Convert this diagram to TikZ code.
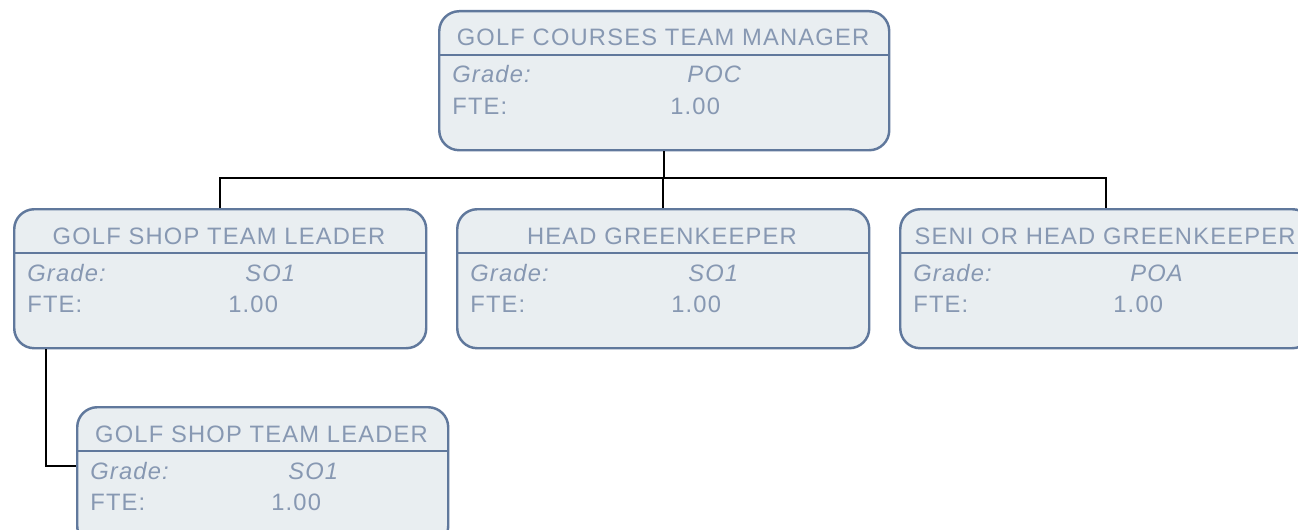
\documentclass[tikz,border=0pt]{standalone}
\usepackage{fontspec}
\setsansfont{Liberation Sans}[LetterSpace=5]
\definecolor{postline}{HTML}{60789C}
\definecolor{postfill}{HTML}{E9EEF1}
\definecolor{posttext}{HTML}{8798B2}

\begin{document}
\begin{tikzpicture}[x=0.2mm, y=-0.2mm,
	every node/.style={font=\sffamily\fontsize{13.5}{15}\selectfont, text=posttext, inner sep=0pt},
	post/.style={draw=postline, fill=postfill, line width=1.4pt, rounded corners=4mm, anchor=north west, minimum height=27.8mm},
	link/.style={draw=black, line width=1.1pt}]
	\clip (0,0) rectangle (1298,529);
	% boxes: name / left / top / width / title / grade / value offset
	\foreach \n/\l/\t/\w/\ti/\g/\v in {mgr/438/10/450/GOLF COURSES TEAM MANAGER/POC/232,
		shop/13/208/412/GOLF SHOP TEAM LEADER/SO1/215,
		head/456/208/412/HEAD GREENKEEPER/SO1/215,
		senior/899/208/412/SENI OR HEAD GREENKEEPER/POA/214,
		shoptwo/76/406/371/GOLF SHOP TEAM LEADER/SO1/195} {
		\node[post, minimum width=\w*0.2mm] (\n) at (\l,\t) {};
		\draw[postline, line width=1.4pt] (\l,\t+45) -- (\l+\w,\t+45);
		\node[anchor=base] (\n-title) at (\l+\w/2,\t+36) {\ti};
		\node[anchor=base west] (\n-gl) at (\l+14,\t+73) {\itshape Grade:};
		\node[anchor=base west] (\n-gv) at (\l+\v+17,\t+73) {\itshape \g};
		\node[anchor=base west] (\n-fl) at (\l+14,\t+104) {FTE:};
		\node[anchor=base west] (\n-fv) at (\l+\v,\t+104) {1.00};
	}
	% connectors
	\coordinate (bus) at (0,178);
	\coordinate (shoptwo-in) at (76,466);
	\draw[link] (mgr.south) -- (mgr.south |- bus);
	\draw[link] (shop.north) |- (senior.north |- bus) -- (senior.north);
	\draw[link] (head.north) -- (head.north |- bus);
	\draw[link] ([xshift=6.6mm]shop.south west) |- (shoptwo-in);
\end{tikzpicture}
\end{document}
